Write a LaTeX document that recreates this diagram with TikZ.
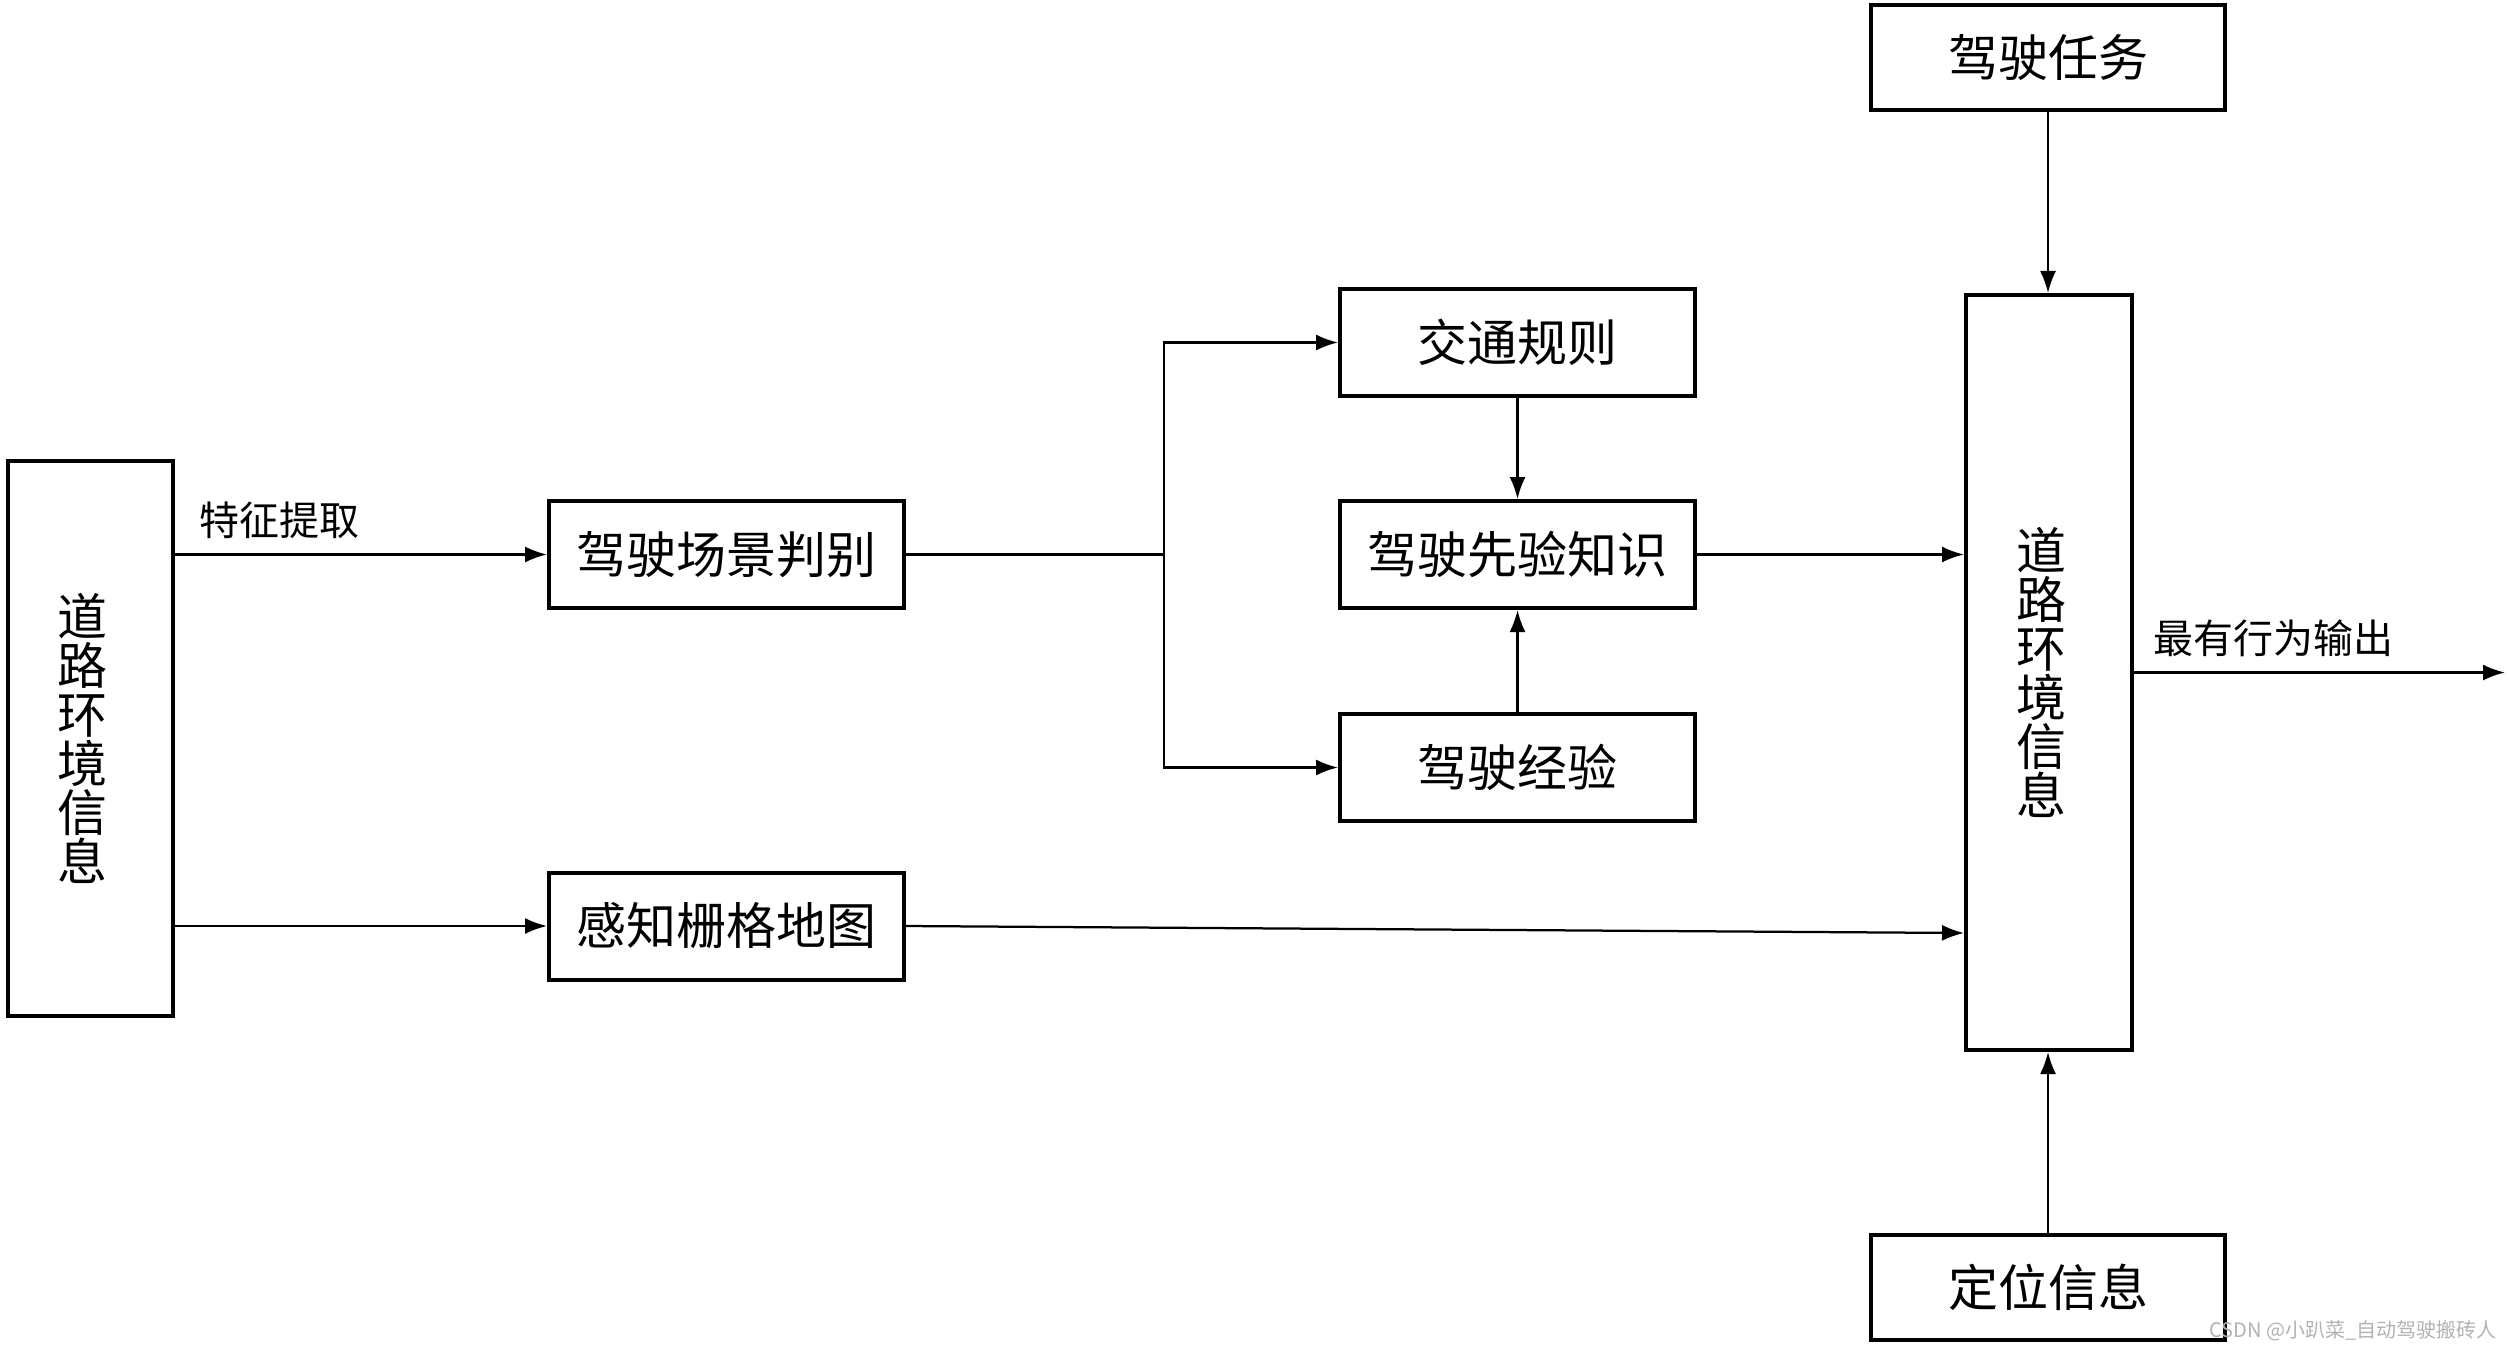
\documentclass[tikz,border=0pt]{standalone}
\usepackage{fontspec}
\setmainfont{Noto Sans CJK SC}
\usetikzlibrary{arrows.meta,calc}
\begin{document}
\begin{tikzpicture}[x=0.4pt,y=-0.4pt,
	box/.style={draw, line width=1.6pt, minimum width=142pt, minimum height=42.8pt, inner sep=0pt, font=\fontsize{20}{24}\selectfont},
	tall/.style={draw, line width=1.6pt, minimum width=66pt, inner sep=0pt, text width=26.4pt, align=left, font=\fontsize{20}{19.6}\selectfont},
	arr/.style={-{Latex[length=8.8pt,width=6.4pt]}, line width=0.9pt},
	lbl/.style={font=\fontsize{16}{19}\selectfont, inner sep=0pt}]
	\useasboundingbox (0,0) rectangle (2510,1353);
	\node (envL)   at (  90.5, 738.5)	[tall, minimum height=222pt]	{道\\路\\环\\境\\信\\息};
	\node (scene)  at ( 726.5, 554.5)	[box]	{驾驶场景判别};
	\node (grid)   at ( 726.5, 926.0)	[box]	{感知栅格地图};
	\node (rules)  at (1517.5, 342.5)	[box]	{交通规则};
	\node (prior)  at (1517.5, 554.5)	[box]	{驾驶先验知识};
	\node (exper)  at (1517.5, 767.5)	[box]	{驾驶经验};
	\node (envR)   at (2049.0, 672.5)	[tall, minimum width=66.4pt, minimum height=302pt]	{道\\路\\环\\境\\信\\息};
	\node (task)   at (2048.0,  57.5)	[box, minimum width=141.6pt, minimum height=42pt]	{驾驶任务};
	\node (locate) at (2048.0,1287.5)	[box, minimum width=141.6pt, minimum height=42pt]	{定位信息};
	\node (mark)   at (2353.0,1331.0)	[font=\fontsize{8}{9}\selectfont, text=gray!60, inner sep=0pt]	{CSDN @小趴菜\_自动驾驶搬砖人};
	\coordinate (fork) at (1164, 554.5);
	\coordinate (out)  at (2505, 672.5);
	% left side
	\draw[arr] (envL.east |- scene.west) -- node[lbl, pos=0.28, above=6pt] {特征提取} (scene.west);
	\draw[arr] (envL.east |- grid.west) -- (grid.west);
	% branches
	\draw[line width=0.9pt] (scene.east) -- (fork);
	\draw[arr] (fork) |- (rules.west);
	\draw[arr] (fork) |- (exper.west);
	\draw[arr] (rules.south) -- (prior.north);
	\draw[arr] (exper.north) -- (prior.south);
	% into the right box
	\draw[arr] (prior.east) -- (envR.west |- prior.east);
	\draw[arr] (grid.east) -- ($(envR.west |- grid.east)+(0,7)$);
	\draw[arr] (task.south) -- (task.south |- envR.north);
	\draw[arr] (locate.north) -- (locate.north |- envR.south);
	\draw[arr] (envR.east) -- node[lbl, pos=0.375, above=6pt] {最有行为输出} (out);
\end{tikzpicture}
\end{document}
